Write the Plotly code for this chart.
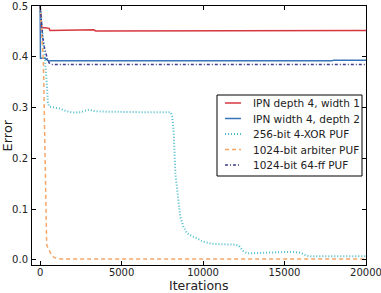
import plotly.graph_objects as go

# ---- data ----
red_x = [0, 50, 100, 300, 550, 600, 2000, 2100, 3300, 3400, 4000, 4100, 6000, 10000, 15000, 20000]
red_y = [0.5, 0.47, 0.457, 0.457, 0.456, 0.452, 0.452, 0.453, 0.453, 0.451, 0.451, 0.452, 0.452, 0.452, 0.452, 0.452]

blue_x = [0, 20, 300, 400, 500, 17900, 18000, 20000]
blue_y = [0.5, 0.397, 0.397, 0.395, 0.392, 0.392, 0.393, 0.393]

cyan_x = [0, 60, 120, 180, 240, 300, 360, 420, 480, 550, 800, 1200, 1600, 2000, 2500, 2800, 3000, 3300,
          4000, 6000, 8000, 8100, 8200, 8300, 8450, 8600, 8800, 9000, 9300, 9600, 10000, 10500, 11000,
          12000, 12200, 12450, 12700, 13500, 14500, 15500, 16000, 16300, 16600, 18000, 20000]
cyan_y = [0.5, 0.48, 0.46, 0.44, 0.42, 0.4, 0.37, 0.34, 0.31, 0.302, 0.3, 0.298, 0.293, 0.29, 0.291, 0.294,
          0.296, 0.293, 0.292, 0.291, 0.291, 0.285, 0.25, 0.17, 0.12, 0.085, 0.065, 0.053, 0.047, 0.043,
          0.036, 0.032, 0.031, 0.03, 0.028, 0.018, 0.013, 0.014, 0.015, 0.016, 0.014, 0.009, 0.007, 0.007, 0.007]

orange_x = [0, 150, 200, 250, 300, 330, 360, 400, 500, 600, 700, 850, 1000, 1300, 20000]
orange_y = [0.5, 0.42, 0.39, 0.3, 0.2, 0.12, 0.06, 0.03, 0.022, 0.015, 0.01, 0.005, 0.003, 0.002, 0.002]

purple_x = [0, 80, 150, 250, 350, 450, 550, 700, 20000]
purple_y = [0.5, 0.46, 0.44, 0.42, 0.405, 0.395, 0.388, 0.385, 0.385]

names = ["IPN depth 4, width 1", "IPN width 4, depth 2", "256-bit 4-XOR PUF",
         "1024-bit arbiter PUF", "1024-bit 64-ff PUF"]

x_ticks = [0, 5000, 10000, 15000, 20000]
y_ticks = [0.0, 0.1, 0.2, 0.3, 0.4, 0.5]

W, H = 381, 293
ML, MR, MT, MB = 32, 15, 6, 28
PW, PH = W - ML - MR, H - MT - MB


def px(xp):
    return (xp - ML) / PW


def py(yp):
    return (H - MB - yp) / PH


fig = go.Figure()
styles = [
    ("#d6383f", "solid", 1.5),
    ("#3574b9", "solid", 1.5),
    ("#4cbccc", "1px,2px", 2),
    ("#f5a76a", "4px,3px", 1.5),
    ("#3e3e90", "3px,2px,1px,2px", 1.5),
]
data = [(red_x, red_y), (blue_x, blue_y), (cyan_x, cyan_y), (orange_x, orange_y), (purple_x, purple_y)]
for (xs, ys), (c, d, w), n in zip(data, styles, names):
    fig.add_trace(go.Scatter(x=xs, y=ys, mode="lines", name=n, showlegend=False,
                             line=dict(color=c, dash=d, width=w)))

axis_common = dict(showline=True, linecolor="black", linewidth=1, mirror="ticks", automargin=False,
                   ticks="inside", ticklen=4, tickcolor="black", showgrid=False, zeroline=False,
                   ticklabeloverflow="allow",
                   tickfont=dict(family="DejaVu Sans", size=10, color="#222"))
fig.update_xaxes(range=[-500, 20000.5], tickvals=x_ticks, ticktext=[str(v) for v in x_ticks],
                 ticklabelstandoff=-2, **axis_common)
fig.update_yaxes(range=[-0.01, 0.5], tickvals=y_ticks, ticktext=[f"{v:.1f}" for v in y_ticks],
                 ticklabelstandoff=1, **axis_common)

# axis titles placed as annotations
annotations = [
    dict(text="Error", x=px(7), y=0.5, xref="paper", yref="paper",
         textangle=-90, showarrow=False, xanchor="center", yanchor="middle",
         font=dict(family="DejaVu Sans", size=13, color="#222")),
    dict(text="Iterations", x=0.5, y=py(285), xref="paper", yref="paper",
         showarrow=False, xanchor="center", yanchor="middle",
         font=dict(family="DejaVu Sans", size=12.5, color="#222")),
]
shapes = [dict(type="rect", xref="paper", yref="paper", x0=px(217), x1=px(362), y0=py(176), y1=py(95),
               line=dict(color="black", width=1), fillcolor="white", layer="above")]
rows = [103, 118.5, 134, 149.5, 165]
for (c, d, w), n, r in zip(styles, names, rows):
    shapes.append(dict(type="line", xref="paper", yref="paper", x0=px(225), x1=px(241), y0=py(r), y1=py(r),
                       line=dict(color=c, dash=d, width=w), layer="above"))
    annotations.append(dict(text=n, x=px(251), y=py(r), xref="paper", yref="paper", showarrow=False,
                            xanchor="left", yanchor="middle",
                            font=dict(family="DejaVu Sans", size=10.5, color="#222")))

fig.update_layout(
    width=W, height=H,
    margin=dict(l=ML, r=MR, t=MT, b=MB),
    plot_bgcolor="white", paper_bgcolor="white",
    font=dict(family="DejaVu Sans"),
    showlegend=False,
    shapes=shapes, annotations=annotations,
)
fig.write_html("out.html")
